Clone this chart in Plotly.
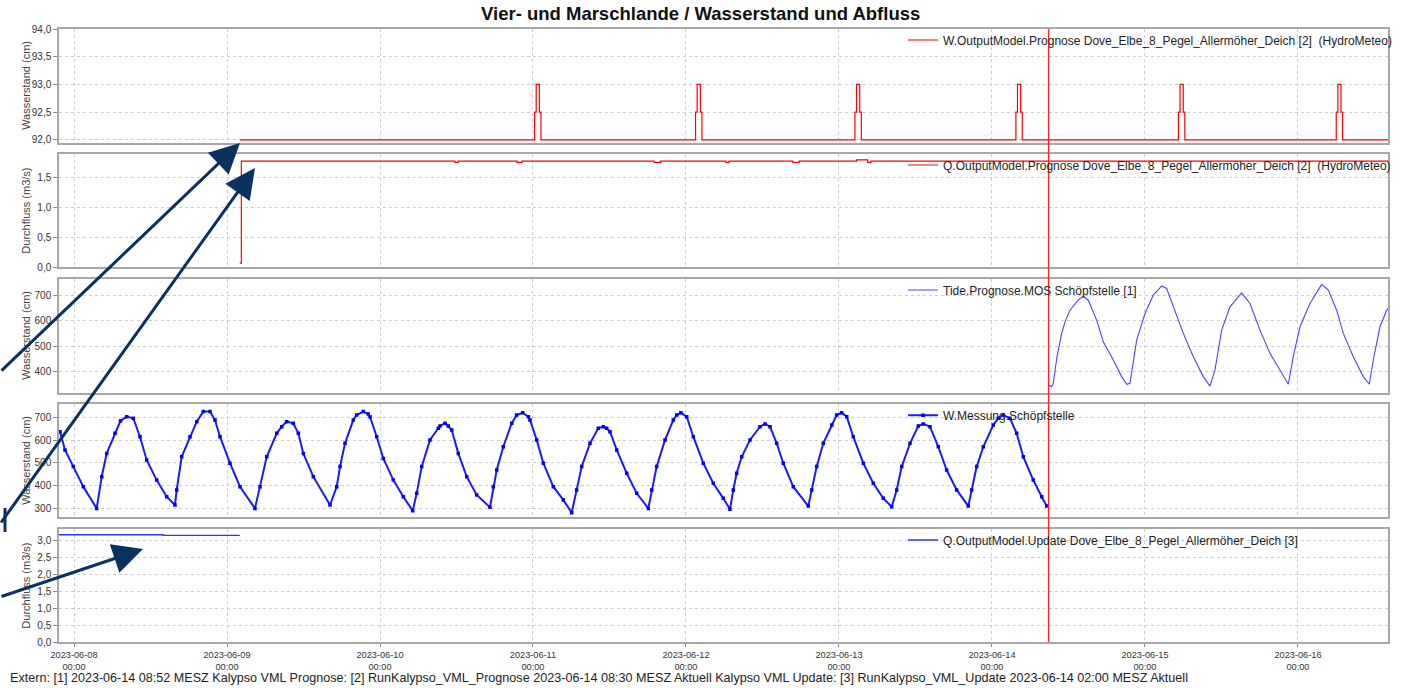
import plotly.graph_objects as go
import pandas as pd

BASE = pd.Timestamp("2023-06-08 00:00")
W, H = 1401, 688

# ---------------- data (times as hours since 2023-06-08 00:00) ----------------
# Panel 1: W.OutputModel.Prognose (step series with short spikes)
w_prog_start_h = 26.0
w_prog_end_h = 207.0
w_prog_base = 92.0
w_spike_start_h = [72.25, 97.5, 122.5, 147.75, 173.25, 198.0]
w_spike_profile = [92.5, 93.0, 93.0, 92.5, 92.0]  # quarter-hour steps

# Panel 2: Q.OutputModel.Prognose
q_prog_h = [26.0, 26.25, 59.75, 60.25, 69.5, 70.25, 91.0, 92.0, 102.25, 102.75,
            112.75, 113.75, 122.75, 124.5, 125.0, 207.0]
q_prog_v = [0.07, 1.78, 1.76, 1.78, 1.76, 1.78, 1.76, 1.78, 1.76, 1.78,
            1.76, 1.78, 1.80, 1.76, 1.78, 1.78]

# Panel 3: Tide.Prognose.MOS Schöpfstelle [1]
tide_h = [152.87, 153.36, 153.61, 154.2, 154.93, 155.5, 156.23, 157.5, 158.32,
          159.10, 160.42, 161.46, 163.03, 164.34, 165.13,
          165.64, 166.70, 168.00, 169.30, 170.62,
          171.40, 172.44, 174.01, 175.58, 177.14, 178.19,
          178.98, 180.03, 181.33, 183.16,
          184.47, 186.04, 187.60, 189.17, 190.48,
          191.26, 192.31, 193.88, 195.72,
          196.75, 198.07, 199.11, 200.67, 202.24, 203.18,
          203.81, 204.86, 205.91, 206.6]
tide_v = [348, 341, 355, 459, 550, 598, 641, 680, 696,
          680, 602, 517, 446, 381, 351,
          355, 524, 628, 700, 736,
          726, 654, 550, 459, 381, 344,
          407, 563, 654, 709,
          667, 563, 472, 407, 351,
          459, 576, 667, 742,
          720, 641, 550, 459, 381, 351,
          446, 576, 641, 662]

# Panel 4: W.Messung Schöpfstelle
meas_h = [-2.2, -1.41, -0.11, 1.46, 3.56,
          4.35, 5.13, 6.43, 7.3, 8.27,
          9.30, 10.35, 11.40, 12.97, 14.54, 15.84,
          16.11, 16.89, 18.20, 19.25, 20.28,
          21.33, 22.12, 22.90, 24.47, 26.04, 28.39,
          29.18, 30.23, 31.80, 32.58, 33.36,
          34.40, 35.19, 35.97, 37.54, 40.16,
          41.21, 41.73, 42.51, 43.81, 44.34, 45.38,
          46.16, 46.43, 47.48, 48.52, 50.09, 51.66, 53.13,
          53.76, 54.54, 55.84, 57.15, 57.41, 58.20,
          58.71, 59.25, 60.28, 61.60, 63.17, 65.25,
          65.77, 66.31, 67.34, 68.66, 69.44, 70.38,
          71.27, 71.53, 72.58, 73.62, 75.19, 76.75, 78.07,
          78.85, 79.64, 80.94, 82.24, 83.03,
          83.56, 84.08, 85.13, 86.70, 88.27, 90.09,
          90.62, 91.40, 92.71, 94.01, 94.54, 95.2,
          96.11, 97.15, 98.71, 100.28, 101.85, 102.90,
          103.42, 103.95, 104.74, 106.04, 107.61, 108.39,
          109.18, 110.23, 111.26, 112.83, 115.18,
          115.72, 116.50, 117.54, 118.86, 119.63, 120.42,
          121.21, 122.24, 123.81, 125.38, 126.95, 128.27,
          129.05, 129.84, 131.14, 132.44, 133.22,
          134.27, 135.58, 136.89, 138.46, 140.28,
          140.81, 141.60, 142.64, 144.20, 144.99, 145.77,
          146.82, 147.87, 148.91, 150.48, 151.80, 152.58]
meas_v = [637, 557, 484, 396, 301,
          440, 542, 630, 685, 703,
          696, 615, 513, 425, 352, 316,
          382, 527, 615, 681, 725,
          725, 688, 615, 499, 396, 301,
          396, 527, 630, 659, 681,
          674, 630, 542, 440, 316,
          396, 484, 586, 688, 710, 725,
          714, 703, 615, 520, 425, 352, 291,
          367, 484, 601, 652, 662, 674,
          662, 644, 542, 440, 360, 306,
          396, 469, 571, 674, 710, 720,
          703, 688, 601, 499, 396, 338, 282,
          382, 484, 586, 652, 659,
          652, 637, 557, 455, 367, 301,
          382, 484, 601, 688, 710, 720,
          703, 615, 499, 411, 345, 297,
          382, 455, 527, 601, 659, 671,
          659, 586, 499, 396, 311,
          382, 484, 586, 666, 710, 720,
          703, 615, 499, 411, 345, 308,
          382, 484, 586, 662, 671,
          659, 571, 469, 382, 311,
          382, 484, 571, 666, 696, 710,
          696, 630, 527, 425, 352, 311]

# Panel 5: Q.OutputModel.Update
q_upd_h = [-4.0, 14.0, 14.0, 26.0]
q_upd_v = [3.18, 3.18, 3.16, 3.16]

# Forecast time marker (red vertical line)
now_h = 152.87

names = [
    "W.OutputModel.Prognose Dove_Elbe_8_Pegel_Allermöher_Deich [2]  (HydroMeteo)",
    "Q.OutputModel.Prognose Dove_Elbe_8_Pegel_Allermöher_Deich [2]  (HydroMeteo)",
    "Tide.Prognose.MOS Schöpfstelle [1]",
    "W.Messung.Schöpfstelle",
    "Q.OutputModel.Update Dove_Elbe_8_Pegel_Allermöher_Deich [3]",
]
y_titles = ["Wasserstand (cm)", "Durchfluss (m3/s)", "Wasserstand (cm)",
            "Wasserstand (cm)", "Durchfluss (m3/s)"]
title_text = "Vier- und Marschlande / Wasserstand und Abfluss"
footer_text = ("Extern: [1] 2023-06-14 08:52 MESZ Kalypso VML Prognose: [2] RunKalypso_VML_Prognose "
               "2023-06-14 08:30 MESZ Aktuell Kalypso VML Update: [3] RunKalypso_VML_Update "
               "2023-06-14 02:00 MESZ Aktuell")


def T(hs):
    return [BASE + pd.Timedelta(hours=h) for h in hs]


# build W prognosis step series
w_h = [w_prog_start_h]
w_v = [w_prog_base]
for s in w_spike_start_h:
    for i, p in enumerate(w_spike_profile):
        w_h.append(s + 0.25 * i)
        w_v.append(p)
w_h.append(w_prog_end_h)
w_v.append(w_prog_base)

FONT = "Liberation Sans, Arial, sans-serif"
fig = go.Figure()
fig.add_trace(go.Scatter(x=T(w_h), y=w_v, mode="lines", line=dict(color="#ff0000", width=1.2, shape="hv"),
                         name=names[0], xaxis="x", yaxis="y", legend="legend"))
fig.add_trace(go.Scatter(x=T(q_prog_h), y=q_prog_v, mode="lines", line=dict(color="#ff0000", width=1.2, shape="hv"),
                         name=names[1], xaxis="x2", yaxis="y2", legend="legend2"))
fig.add_trace(go.Scatter(x=T(tide_h), y=tide_v, mode="lines", line=dict(color="#4646ff", width=1.1),
                         name=names[2], xaxis="x3", yaxis="y3", legend="legend3"))
fig.add_trace(go.Scatter(x=T(meas_h), y=meas_v, mode="lines+markers",
                         line=dict(color="#1a1aff", width=2),
                         marker=dict(symbol="square", size=3.5, color="#0000ff"),
                         name=names[3], xaxis="x4", yaxis="y4", legend="legend4"))
fig.add_trace(go.Scatter(x=T(q_upd_h), y=q_upd_v, mode="lines", line=dict(color="#3030ff", width=1.3, shape="hv"),
                         name=names[4], xaxis="x5", yaxis="y5", legend="legend5"))

# panel pixel geometry
x_left, x_right = 59, 1388
panels = [(29, 142.7), (154, 267.3), (279, 392.7), (404.3, 517.3), (529, 642.3)]
y_ranges = [[91.95, 94.0], [0, 1.9], [318, 763], [262, 757], [0, 3.35]]
y_dticks = [0.5, 0.5, 100, 100, 0.5]
y_formats = [".1f", ".1f", "d", "d", ".1f"]

x_range = [str(BASE + pd.Timedelta(hours=-2.353)), str(BASE + pd.Timedelta(hours=206.12))]

layout = dict(
    width=W, height=H, margin=dict(l=0, r=0, t=0, b=0, autoexpand=False),
    paper_bgcolor="white", plot_bgcolor="white",
    separators=",.", showlegend=True,
    font=dict(family=FONT, size=11, color="#333"),
)
for i, (top, bot) in enumerate(panels):
    n = "" if i == 0 else str(i + 1)
    last = i == 4
    layout["xaxis" + n] = dict(
        domain=[x_left / W, x_right / W], range=x_range, type="date",
        anchor="y" + n, matches=None if i == 0 else "x",
        showgrid=True, gridcolor="#cdcdcd", griddash="dot", gridwidth=1,
        showline=True, linecolor="#a8a8a8", linewidth=1.5, mirror=True,
        tick0="2023-06-08", dtick=86400000,
        showticklabels=last, ticks="outside" if last else "", ticklen=3, tickcolor="#888",
        tickformat="%Y-%m-%d<br>%H:%M", tickfont=dict(size=9.2, color="#333", family=FONT),
        zeroline=False,
    )
    layout["yaxis" + n] = dict(
        domain=[1 - bot / H, 1 - top / H], range=y_ranges[i], anchor="x" + n,
        showgrid=True, gridcolor="#cdcdcd", griddash="dot", gridwidth=1,
        showline=True, linecolor="#a8a8a8", linewidth=1.5, mirror=True,
        ticks="outside", ticklen=4, tickcolor="#888", dtick=y_dticks[i], tickformat=y_formats[i],
        tickfont=dict(size=10, color="#333", family=FONT), zeroline=False,
    )
    layout["legend" + n] = dict(
        x=903 / W, xanchor="left", y=1 - (top - 3.5) / H, yanchor="top",
        bgcolor="rgba(0,0,0,0)", borderwidth=0, itemwidth=30,
        font=dict(family=FONT, size=12, color="#222"),
    )
fig.update_layout(**layout)

annotations = [
    dict(text="<b>" + title_text + "</b>", x=700 / W, y=1 - 13 / H, xref="paper", yref="paper",
         xanchor="center", yanchor="middle", showarrow=False, font=dict(family=FONT, size=18.5, color="#111")),
    dict(text=footer_text, x=8 / W, y=1 - 678 / H, xref="paper", yref="paper",
         xanchor="left", yanchor="middle", showarrow=False, font=dict(family=FONT, size=12.6, color="#222")),
]
for i, (top, bot) in enumerate(panels):
    annotations.append(dict(text=y_titles[i], x=26 / W, y=1 - (top + bot) / 2 / H, xref="paper", yref="paper",
                            xanchor="center", yanchor="middle", textangle=-90, showarrow=False,
                            font=dict(family=FONT, size=11, color="#444")))
# navy arrows
for (hx, hy, tx, ty) in [(240, 143, 0, 372), (255, 168, 0, 524), (143, 549, 0, 597)]:
    annotations.append(dict(text="", x=hx / W, y=1 - hy / H, xref="paper", yref="paper",
                            ax=tx - hx, ay=ty - hy, showarrow=True, arrowhead=2, arrowsize=2,
                            arrowwidth=3, arrowcolor="#0b3160"))
fig.update_layout(annotations=annotations)

shapes = [
    dict(type="line", xref="x", yref="paper", x0=BASE + pd.Timedelta(hours=now_h),
         x1=BASE + pd.Timedelta(hours=now_h), y0=1 - 642.3 / H, y1=1 - 29 / H,
         line=dict(color="#ff2020", width=1.3)),
    dict(type="line", xref="paper", yref="paper", x0=5 / W, x1=5 / W, y0=1 - 532 / H, y1=1 - 508 / H,
         line=dict(color="#0b3160", width=3)),
]
fig.update_layout(shapes=shapes)

fig.write_html("out.html")
